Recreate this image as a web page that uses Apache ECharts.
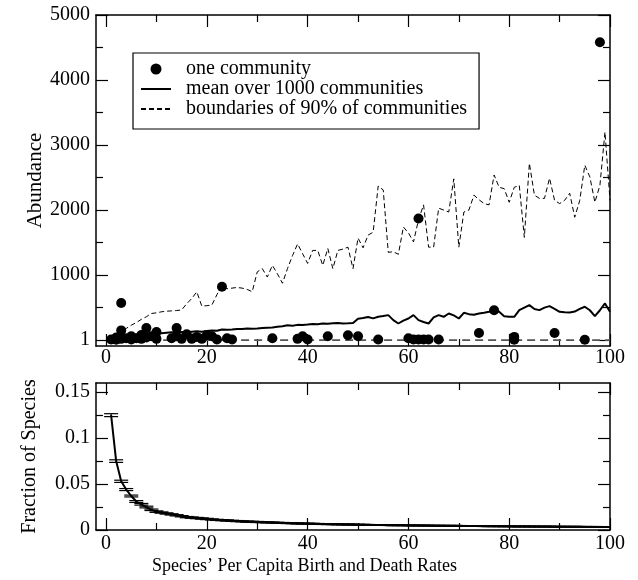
<!DOCTYPE html>
<html>
<head>
<meta charset="utf-8">
<script src="https://cdn.jsdelivr.net/npm/echarts@6/dist/echarts.min.js"></script>
<style>
html,body{margin:0;padding:0;background:#fff;}
#chart{width:638px;height:580px;}
</style>
</head>
<body>
<div id="chart"></div>
<script>
// ---------- data ----------
var rates = [1,2,3,4,5,6,7,8,9,10,11,12,13,14,15,16,17,18,19,20,
  21,22,23,24,25,26,27,28,29,30,31,32,33,34,35,36,37,38,39,40,
  41,42,43,44,45,46,47,48,49,50,51,52,53,54,55,56,57,58,59,60,
  61,62,63,64,65,66,67,68,69,70,71,72,73,74,75,76,77,78,79,80,
  81,82,83,84,85,86,87,88,89,90,91,92,93,94,95,96,97,98,99,100];

var meanAbundance = [5,30,50,60,70,80,90,95,100,105,
  105,115,120,118,125,120,130,135,128,140,
  150,145,165,160,165,172,170,178,176,180,
  185,190,195,205,215,230,222,235,232,240,
  250,245,256,252,260,262,255,258,262,330,
  340,355,335,360,370,385,308,256,300,333,
  385,308,280,256,350,385,359,410,380,333,
  420,400,390,410,420,436,462,436,369,360,
  359,462,500,538,480,462,500,523,480,436,
  430,425,440,480,513,460,369,460,564,436];

var upperBound = [10,60,128,180,230,270,320,360,410,420,
  436,445,450,455,465,560,640,743,523,530,
  540,700,846,790,800,810,800,780,745,1050,
  1100,970,1150,1020,875,1100,1300,1480,1330,1180,
  1380,1380,1150,1410,1100,1380,1400,1430,1100,1570,
  1420,1615,1660,2370,2310,1350,1360,1320,1740,1650,
  1510,1850,2080,1430,1430,2030,2000,1970,2480,1430,
  1970,2000,2230,2160,2100,2080,2540,2350,2330,2120,
  2350,2380,1580,2720,2230,2180,2180,2490,2150,2100,
  2150,2260,1890,2150,2690,2510,2120,2380,3200,2150];

var lowerBound = [1,1,1,1,1,1,1,1,1,1,1,1,1,1,1,1,1,1,1,1,
  1,1,1,1,1,1,1,1,1,1,1,1,1,1,1,1,1,1,1,1,
  1,1,1,1,1,1,1,1,1,1,1,1,1,1,1,1,1,1,1,1,
  1,1,1,1,1,1,1,1,1,1,1,1,1,1,1,1,1,1,1,1,
  1,1,1,1,1,1,1,1,1,1,1,1,1,1,1,1,1,1,1,1];

var communityRate = [1,2,2,3,3,3,4,5,5,6,7,7,8,8,9,10,10,13,14,14,15,16,17,18,19,20,21,22,23,24,25,
  33,38,39,40,44,48,50,54,60,61,62,62,63,64,66,74,77,81,81,89,95,98];
var communityAbundance = [10,5,40,570,150,20,30,10,60,30,80,20,185,40,60,125,20,30,185,60,20,90,20,50,20,80,60,10,820,30,10,
  30,20,60,10,60,75,60,10,30,10,1870,10,10,10,10,110,460,50,5,110,5,4580];

var fraction = [0.125,0.075,0.053,0.044,0.037,0.031,0.028,0.025,0.022,0.020,
  0.019,0.018,0.017,0.016,0.015,0.014,0.0135,0.013,0.0125,0.012,
  0.0115,0.011,0.0107,0.0104,0.010,0.0097,0.0094,0.0091,0.0089,0.0087,
  0.0085,0.0083,0.0081,0.0079,0.0077,0.0075,0.0073,0.0072,0.0070,0.0069,
  0.0068,0.0066,0.0065,0.0064,0.0063,0.0062,0.0061,0.0060,0.0059,0.0058,
  0.0057,0.0056,0.0055,0.0055,0.0054,0.0053,0.0052,0.0052,0.0051,0.0050,
  0.0050,0.0049,0.0048,0.0048,0.0047,0.0047,0.0046,0.0046,0.0045,0.0045,
  0.0044,0.0044,0.0043,0.0043,0.0042,0.0042,0.0041,0.0041,0.0040,0.0040,
  0.0039,0.0039,0.0039,0.0038,0.0038,0.0037,0.0037,0.0037,0.0036,0.0036,
  0.0036,0.0035,0.0035,0.0035,0.0034,0.0034,0.0034,0.0033,0.0033,0.0033];

var fractionErr = [0.0016,0.0014,0.0012,0.0011,0.0010,0.0010,0.0009,0.0009,0.0008,0.0008,
  0.0007,0.0007,0.0007,0.0007,0.0007,0.0007,0.0007,0.0007,0.0007,0.0007,
  0.0006,0.0006,0.0006,0.0006,0.0006,0.0006,0.0006,0.0006,0.0006,0.0006,
  0.0005,0.0005,0.0005,0.0005,0.0005,0.0005,0.0005,0.0005,0.0005,0.0005,
  0.0005,0.0005,0.0005,0.0005,0.0005,0.0005,0.0005,0.0005,0.0005,0.0005,
  0.0004,0.0004,0.0004,0.0004,0.0004,0.0004,0.0004,0.0004,0.0004,0.0004,
  0.0004,0.0004,0.0004,0.0004,0.0004,0.0004,0.0004,0.0004,0.0004,0.0004,
  0.0004,0.0004,0.0004,0.0004,0.0004,0.0004,0.0004,0.0004,0.0004,0.0004,
  0.0004,0.0004,0.0004,0.0004,0.0004,0.0004,0.0004,0.0004,0.0004,0.0004,
  0.0004,0.0004,0.0004,0.0004,0.0004,0.0004,0.0004,0.0004,0.0004,0.0004];

var xMajorTicks = [0,20,40,60,80,100];
var xMinorTicks = [10,30,50,70,90];
var abundanceLabels = [1,1000,2000,3000,4000,5000];
var abundanceMinor = [500,1500,2500,3500,4500];
var fractionLabels = [0,0.05,0.1,0.15];
var fractionMinor = [0.025,0.075,0.125];

var seriesNames = ['one community','mean over 1000 communities','boundaries of 90% of communities'];
var xTitle = 'Species\u2019 Per Capita Birth and Death Rates';
var yTitleTop = 'Abundance';
var yTitleBottom = 'Fraction of Species';

// ---------- chart ----------
var FONT = 'Liberation Serif';
var chart = echarts.init(document.getElementById('chart'), null, {renderer:'canvas'});

function axisCommon(gridIndex, position, min, max, ticks, tickLen, labels, showLine, labelOpts){
  var ax = {
    type:'value', gridIndex:gridIndex, position:position, min:min, max:max,
    splitLine:{show:false},
    axisLine:{show:showLine, onZero:false, lineStyle:{color:'#000', width:1.5}},
    axisTick:{show:true, inside:true, length:tickLen, customValues:ticks, lineStyle:{color:'#000', width:1.2}},
    axisLabel:{show:!!labels}
  };
  if (labels) {
    ax.axisLabel = Object.assign({show:true, customValues:labels, color:'#000',
      fontFamily:FONT, fontSize:20, formatter:function(v){return String(v);}}, labelOpts||{});
  }
  return ax;
}

var xAxes = [], yAxes = [];
[0,1].forEach(function(g){
  xAxes.push(axisCommon(g,'bottom',-2,100,xMajorTicks,12,xMajorTicks,true,{margin:g===0?2:4}));
  xAxes.push(axisCommon(g,'bottom',-2,100,xMinorTicks,7,null,false));
  xAxes.push(axisCommon(g,'top',-2,100,xMajorTicks,12,null,true));
  xAxes.push(axisCommon(g,'top',-2,100,xMinorTicks,7,null,false));
});
// top panel y
yAxes.push(axisCommon(0,'left',-90,5000,abundanceLabels,12,abundanceLabels,true,{margin:6}));
yAxes.push(axisCommon(0,'left',-90,5000,abundanceMinor,7,null,false));
yAxes.push(axisCommon(0,'right',-90,5000,abundanceLabels,12,null,true));
yAxes.push(axisCommon(0,'right',-90,5000,abundanceMinor,7,null,false));
// bottom panel y
yAxes.push(axisCommon(1,'left',0,0.16,fractionLabels,12,fractionLabels,true,{margin:6}));
yAxes.push(axisCommon(1,'left',0,0.16,fractionMinor,7,null,false));
yAxes.push(axisCommon(1,'right',0,0.16,fractionLabels,12,null,true));
yAxes.push(axisCommon(1,'right',0,0.16,fractionMinor,7,null,false));

yAxes[0].name = yTitleTop;
yAxes[0].nameLocation = 'middle';
yAxes[0].nameGap = 50;
yAxes[0].nameMoveOverlap = false;
yAxes[0].nameTextStyle = {fontFamily:FONT, fontSize:21, color:'#000'};
yAxes[4].name = yTitleBottom;
yAxes[4].nameLocation = 'middle';
yAxes[4].nameGap = 56;
yAxes[4].nameMoveOverlap = false;
yAxes[4].nameTextStyle = {fontFamily:FONT, fontSize:20, color:'#000'};

function pairs(xs, ys){ return xs.map(function(x,i){ return [x, ys[i]]; }); }

var hiddenSymbol = {color:'#000', opacity:0};

var option = {
  backgroundColor:'#fff',
  animation:false,
  grid:[
    {left:96, right:28, top:15, height:331, outerBoundsMode:'none', containLabel:false},
    {left:96, right:28, top:383, height:147, outerBoundsMode:'none', containLabel:false}
  ],
  title:{text:xTitle, left:152, top:557, padding:0,
    textStyle:{fontFamily:FONT, fontSize:18, fontWeight:'normal', color:'#000'}},
  legend:{
    orient:'vertical', left:133, top:53, selectedMode:false,
    data:seriesNames,
    itemWidth:30, itemHeight:11, itemGap:0,
    padding:[6,12,10,7],
    borderColor:'#000', borderWidth:1.2, backgroundColor:'#fff',
    textStyle:{fontFamily:FONT, fontSize:20, color:'#000', padding:[0,0,0,10], lineHeight:20}
  },
  xAxis:xAxes,
  yAxis:yAxes,
  series:[
    {name:seriesNames[2], type:'line', xAxisIndex:0, yAxisIndex:0, symbol:'none', itemStyle:hiddenSymbol,
      data:pairs(rates, upperBound), lineStyle:{color:'#000', width:1, type:[5,3]}, z:2},
    {name:seriesNames[2], type:'line', xAxisIndex:0, yAxisIndex:0, symbol:'none', itemStyle:hiddenSymbol,
      data:pairs(rates, lowerBound), lineStyle:{color:'#555', width:1.6, type:[8,5]}, z:2},
    {name:seriesNames[1], type:'line', xAxisIndex:0, yAxisIndex:0, symbol:'none', itemStyle:hiddenSymbol,
      data:pairs(rates, meanAbundance), lineStyle:{color:'#000', width:2}, z:3},
    {name:seriesNames[0], type:'scatter', xAxisIndex:0, yAxisIndex:0, symbol:'circle', symbolSize:10,
      data:pairs(communityRate, communityAbundance), itemStyle:{color:'#000', opacity:1}, z:4},
    {name:'fraction', type:'line', xAxisIndex:4, yAxisIndex:4, symbol:'none',
      data:pairs(rates, fraction), lineStyle:{color:'#000', width:2}, z:3},
    {name:'fractionErr', type:'custom', xAxisIndex:4, yAxisIndex:4, z:4, clip:true,
      data:rates.map(function(x,i){ return [x, fraction[i], fractionErr[i]]; }),
      renderItem:function(params, api){
        var x = api.value(0), y = api.value(1), e = api.value(2);
        var hi = api.coord([x, y + e]);
        var lo = api.coord([x, y - e]);
        var half = 7;
        var st = {stroke:'#000', lineWidth:1.2};
        return {type:'group', children:[
          {type:'line', shape:{x1:hi[0]-half, y1:hi[1], x2:hi[0]+half, y2:hi[1]}, style:st},
          {type:'line', shape:{x1:lo[0]-half, y1:lo[1], x2:lo[0]+half, y2:lo[1]}, style:st},
          {type:'line', shape:{x1:hi[0], y1:hi[1], x2:lo[0], y2:lo[1]}, style:st}
        ]};
      }
    }
  ]
};
chart.setOption(option);
</script>
</body>
</html>
